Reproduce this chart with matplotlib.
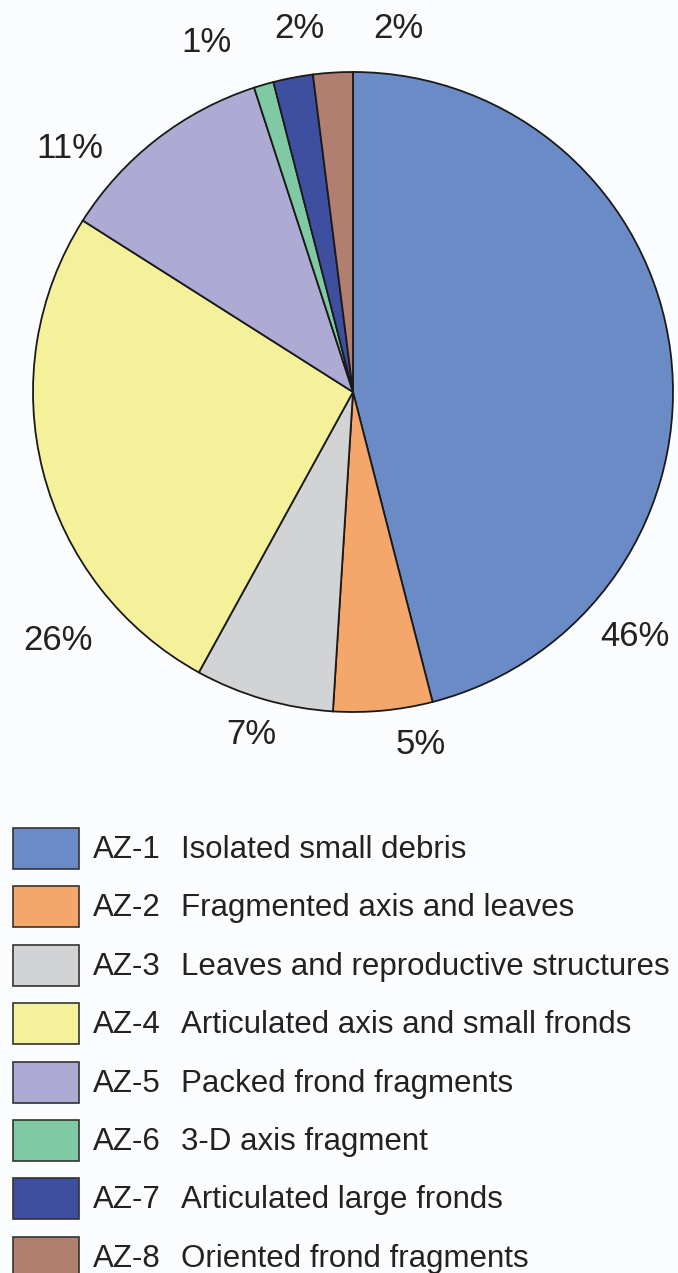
import matplotlib.pyplot as plt
from matplotlib.patches import Rectangle

# data
codes = ['AZ-1', 'AZ-2', 'AZ-3', 'AZ-4', 'AZ-5', 'AZ-6', 'AZ-7', 'AZ-8']
names = ['Isolated small debris', 'Fragmented axis and leaves',
         'Leaves and reproductive structures', 'Articulated axis and small fronds',
         'Packed frond fragments', '3-D axis fragment',
         'Articulated large fronds', 'Oriented frond fragments']
pct = [46, 5, 7, 26, 11, 1, 2, 2]
colores = ['#6a8bc6', '#f5a66a', '#d2d3d5', '#f5f19a',
           '#adaad4', '#7fc9a4', '#3f4fa0', '#b07f70']

# label spots (pixels, from the top-left corner of the picture)
lab_pos = [(635, 636), (421, 745), (251, 735), (58, 640),
           (70, 148), (206, 43), (299, 28), (398, 28)]

W, H = 678, 1273
bg = '#fbfcfe'
plt.rcParams['font.family'] = ['Liberation Sans', 'DejaVu Sans']

fig = plt.figure(figsize=(W / 100, H / 100), dpi=100, facecolor=bg)
ax = fig.add_axes([0, 0, 1, 1])
ax.set_aspect('equal')
ax.set_facecolor(bg)

def yy(y):
    return H - y

# pie
ax.pie(pct, colors=colores, startangle=90, counterclock=False,
       center=(353, yy(392)), radius=320, frame=True,
       wedgeprops=dict(edgecolor='#1a1a1a', linewidth=1.3))
ax.set_xlim(0, W)
ax.set_ylim(0, H)
ax.axis('off')

for p, (x, y) in zip(pct, lab_pos):
    ax.text(x, yy(y), '%d%%' % p, fontsize=25, color='#222222',
            ha='center', va='center')

# legend
top0 = 828
paso = 58.4
for i, (c, n, col) in enumerate(zip(codes, names, colores)):
    t = top0 + i * paso
    ax.add_patch(Rectangle((13, yy(t + 41)), 66, 41, facecolor=col,
                           edgecolor='#333333', linewidth=1.2))
    ax.text(93, yy(t + 22), c, fontsize=22.5, color='#222222', va='center')
    ax.text(181, yy(t + 22), n, fontsize=22.5, color='#222222', va='center')

fig.savefig('out.png', dpi=100, facecolor=bg)
